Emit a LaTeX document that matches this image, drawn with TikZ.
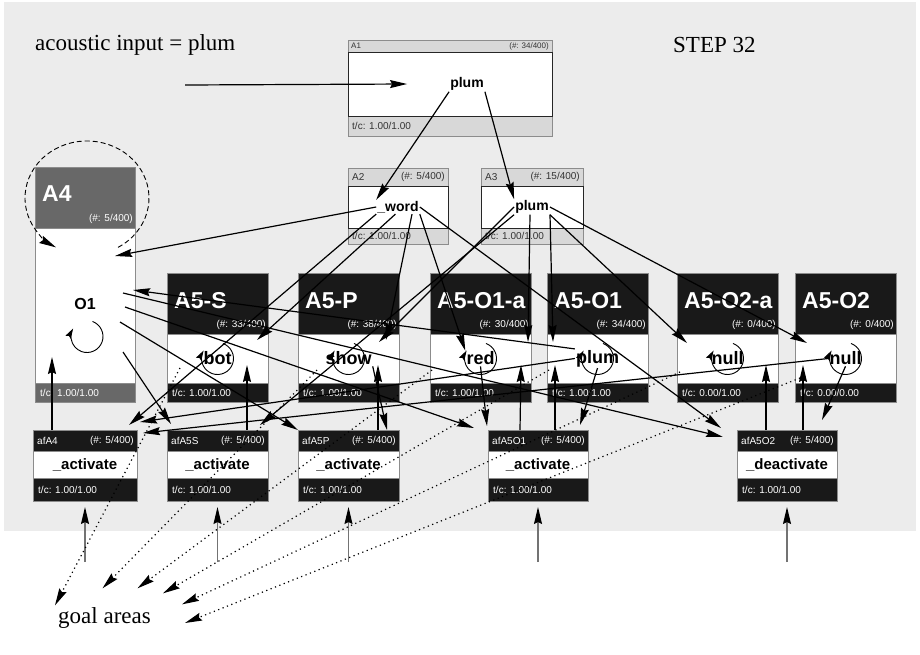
\documentclass[tikz,border=0pt]{standalone}
\usepackage{fontspec}
\setmainfont{Liberation Serif}
\setsansfont{Liberation Sans}
\usetikzlibrary{arrows.meta,positioning}

\definecolor{bggray}{RGB}{236,236,236}
\definecolor{ltgray}{RGB}{216,216,216}
\definecolor{dkgray}{RGB}{104,104,104}
\definecolor{rimgray}{RGB}{140,140,140}

% name, x, y, width, header h, body h, footer h, kind
\newcommand\areabox[8]{%
  \node[#8 hd,minimum width=#4pt,minimum height=#5pt,anchor=north west] (#1-h) at (#2,#3) {};
  \node[#8 hd,minimum width=#4pt,minimum height=#7pt,anchor=north] (#1-f) at ([yshift=-#6pt]#1-h.south) {};
  \node[#8 bd,minimum width=#4pt,minimum height=#6pt,anchor=north] (#1) at (#1-h.south) {};
}

\begin{document}
\begin{tikzpicture}[x=1pt,y=-1pt,>={Stealth[length=17pt,width=8pt,inset=2pt]},
    box/.style={draw=rimgray,line width=0.7pt,inner sep=0pt,outer sep=0pt},
    lt hd/.style={box,fill=ltgray},
    lt bd/.style={box,fill=white,draw=black!85},
    dk hd/.style={box,fill=dkgray},
    dk bd/.style={box,fill=white},
    bk hd/.style={box,fill=black!90},
    bk bd/.style={box,fill=white},
    lbl/.style={font=\sffamily\fontsize{10}{10}\selectfont,inner sep=0pt,text=black!80},
    wlbl/.style={lbl,text=white},
    title/.style={font=\sffamily\bfseries\fontsize{23}{23}\selectfont,inner sep=0pt,text=white},
    word/.style={font=\sffamily\bfseries\fontsize{14}{14}\selectfont,inner sep=1pt},
    bigword/.style={font=\sffamily\bfseries\fontsize{18}{18}\selectfont,inner sep=1pt},
    note/.style={font=\fontsize{23}{23}\selectfont,inner sep=0pt},
    conn/.style={->,line width=1.2pt},
    goal/.style={->,line width=1.2pt,dash pattern=on 1.2pt off 3.5pt},
    feed/.style={-{Stealth[length=17pt,width=8pt,inset=2pt,color=black]},draw=black!55,line width=1.2pt},
    spin/.style={-{Stealth[length=10pt,width=6pt,inset=1.5pt]},line width=0.9pt}]

\useasboundingbox (0,0) rectangle (920,654);
\fill[bggray] (4,2) rectangle (916,531);

\node[note,anchor=west] (inptxt) at (35,45) {acoustic input = plum};
\node[note,anchor=west] (step) at (673,45) {STEP 32};
\node[note,anchor=west] (gl) at (58,618) {goal areas};
\coordinate (inp) at (185,85);

% word areas
\areabox{aA1}{348}{40}{204}{12}{64}{20}{lt}
\node[lbl,font=\sffamily\fontsize{8}{8}\selectfont,anchor=west] (aA1-t) at ([xshift=3pt]aA1-h.west) {A1};
\node[lbl,font=\sffamily\fontsize{8}{8}\selectfont,anchor=east] (aA1-c) at ([xshift=-3pt]aA1-h.east) {(\#: 34/400)};
\node[word] (wA1) at ([xshift=17pt]aA1.center) {plum};
\node[lbl,anchor=west] (aA1-tc) at ([xshift=4pt]aA1-f.west) {t/c: 1.00/1.00};

\areabox{aA2}{348}{168}{100}{18}{42}{16}{lt}
\node[lbl,anchor=west] (aA2-t) at ([xshift=4pt]aA2-h.west) {A2};
\node[lbl,anchor=east] (aA2-c) at ([xshift=-3pt]aA2-h.east) {(\#: 5/400)};
\node[word] (wA2) at (aA2) {\_word};
\node[lbl,anchor=west] (aA2-tc) at ([xshift=4pt]aA2-f.west) {t/c: 1.00/1.00};

\areabox{aA3}{481}{168}{102}{18}{42}{16}{lt}
\node[lbl,anchor=west] (aA3-t) at ([xshift=4pt]aA3-h.west) {A3};
\node[lbl,anchor=east] (aA3-c) at ([xshift=-3pt]aA3-h.east) {(\#: 15/400)};
\node[word] (wA3) at (aA3) {plum};
\node[lbl,anchor=west] (aA3-tc) at ([xshift=4pt]aA3-f.west) {t/c: 1.00/1.00};

\areabox{aA4}{35}{167}{100}{61}{155}{19}{dk}
\node[title,anchor=west] (aA4-t) at ([xshift=7pt,yshift=4pt]aA4-h.west) {A4};
\node[wlbl,anchor=south east] (aA4-c) at ([xshift=-2pt,yshift=4pt]aA4-h.south east) {(\#: 5/400)};
\draw[spin] ([xshift=2pt,yshift=-31pt]aA4.center) ++(70:16pt) arc[start angle=70,end angle=-210,radius=16pt];
\node[bigword,font=\sffamily\bfseries\fontsize{16}{16}\selectfont] (wA4) at ([yshift=2pt]aA4.center) {O1};
\node[wlbl,anchor=west] (aA4-tc) at ([xshift=5pt]aA4-f.west) {t/c: 1.00/1.00};
\draw[->,line width=0.9pt,dash pattern=on 5pt off 3pt] ([xshift=2pt,yshift=-0.5pt]aA4-h.center) ++(-60:62pt and 57pt)
  arc[start angle=-60,end angle=240,x radius=62pt,y radius=57pt];

\foreach \nm/\x/\ttl/\cnt/\wrd/\tcv in {S/167/A5-S/33/bot/{1.00/1.00}, P/298/A5-P/38/show/{1.00/1.00},
    O1a/430/A5-O1-a/30/red/{1.00/1.00}, O1/547/A5-O1/34/plum/{1.00/1.00},
    O2a/677/A5-O2-a/0/null/{0.00/1.00}, O2/795/A5-O2/0/null/{0.00/0.00}}{
  \areabox{a\nm}{\x}{273}{101}{61}{49}{19}{bk}
  \node[title,anchor=west] (a\nm-t) at ([xshift=7pt,yshift=3pt]a\nm-h.west) {\ttl};
  \node[wlbl,anchor=south east] (a\nm-c) at ([xshift=-2pt,yshift=4pt]a\nm-h.south east) {(\#: \cnt/400)};
  \draw[spin] (a\nm.center) ++(70:16pt) arc[start angle=70,end angle=-210,radius=16pt];
  \node[bigword] (w\nm) at (a\nm) {\wrd};
  \node[wlbl,anchor=west] (a\nm-tc) at ([xshift=5pt]a\nm-f.west) {t/c: \tcv};
}

% goal areas
\foreach \nm/\x/\wid/\act in {A4/33/104/activate, A5S/167/101/activate, A5P/298/101/activate,
    A5O1/488/100/activate, A5O2/737/100/deactivate}{
  \areabox{g\nm}{\x}{430}{\wid}{21}{27}{23}{bk}
  \node[wlbl,anchor=west] (g\nm-t) at ([xshift=4pt]g\nm-h.west) {af\nm};
  \node[wlbl,anchor=east] (g\nm-c) at ([xshift=-3pt]g\nm-h.east) {(\#: 5/400)};
  \node[word,font=\sffamily\bfseries\fontsize{15}{15}\selectfont] (g\nm-w) at (g\nm) {\_\act};
  \node[wlbl,anchor=west] (g\nm-tc) at ([xshift=5pt]g\nm-f.west) {t/c: 1.00/1.00};
  \draw[feed] ([yshift=-61pt]g\nm-f.south) -- ([yshift=-6pt]g\nm-f.south);
}

% connections
\draw[conn] (inp) -- ([xshift=-42pt]wA1.west);
\draw[conn] (wA1.south west) -- (wA2.north west);
\draw[conn] (wA1.south east) -- (wA3.north west);

\draw[conn] (wA2.west) -- ([xshift=-20pt,yshift=-28pt]aA4.north east);
\draw[conn] (wA2.south west) -- ([xshift=-8pt,yshift=5pt]gA4-h.north east);
\draw[conn] (wA2.250) -- ([xshift=-11pt,yshift=-6pt]aS.north east);
\draw[conn] ([xshift=14pt]wA2.south) -- ([xshift=-13pt,yshift=-6pt]aP.north east);
\draw[conn] (wA2.south east) -- (wO1a.north west);
\draw[conn] (wA2.east) -- ([xshift=-16pt,yshift=2pt]gA5O2-h.north west);

\draw[conn] (wA3.south west) -- ([xshift=-8pt,yshift=5pt]gA5S-h.north east);
\draw[conn] (wA3.west) -- ([xshift=-20pt,yshift=-8pt]aP.north east);
\draw[conn] ([xshift=-2pt]wA3.south) -- ([xshift=-3pt,yshift=-8pt]aO1a.north east);
\draw[conn] ([xshift=18pt]wA3.south) -- ([xshift=6pt,yshift=-8pt]aO1.north west);
\draw[conn] (wA3.south east) -- ([xshift=10pt,yshift=-9pt]aO2a.north west);
\draw[conn] (wA3.east) -- ([xshift=12pt,yshift=-9pt]aO2.north west);

\draw[conn] ([xshift=-12pt,yshift=-65pt]aA4.north east) -- ([xshift=-14pt,yshift=-7pt]gA5O2-h.north west);
\draw[conn] ([xshift=-10pt,yshift=-79pt]aA4.north east) -- ([xshift=-14pt,yshift=2pt]gA5O1-h.north west);
\draw[conn] ([xshift=-15pt,yshift=-94pt]aA4.north east) -- (gA5P-h.north west);
\draw[conn] ([xshift=-12pt,yshift=-124pt]aA4.north east) -- ([xshift=4pt,yshift=6pt]gA5S-h.north west);

\draw[conn] (wO1.north west) -- ([xshift=-2pt,yshift=-62pt]aA4.north east);
\draw[conn] (wO1.west) -- ([xshift=3pt,yshift=8pt]gA4-h.north east);
\draw[conn] (wO1.south) -- ([xshift=-8pt,yshift=5pt]gA5O1-h.north east);
\draw[conn] (wO1a.south) -- ([xshift=-1pt,yshift=4pt]gA5O1-h.north west);
\draw[conn] (wP.south east) -- ([xshift=-12pt]gA5P-h.north east);
\draw[conn] (wO2.west) -- ([xshift=6pt,yshift=-3pt]gA4-h.north east);
\draw[conn] (wO2.south) -- ([xshift=-15pt,yshift=10pt]gA5O2-h.north east);

\draw[conn] ([xshift=19pt]gA4-h.north west) -- ([xshift=17pt,yshift=26pt]aA4.south west);
\draw[conn] ([xshift=80pt]gA5S-h.north west) -- ([xshift=80pt,yshift=18pt]aS.south west);
\draw[conn] ([xshift=80pt]gA5P-h.north west) -- ([xshift=80pt,yshift=18pt]aP.south west);
\draw[conn] ([xshift=32pt]gA5O1-h.north west) -- ([xshift=-10pt,yshift=18pt]aO1a.south east);
\draw[conn] ([xshift=67pt]gA5O1-h.north west) -- ([xshift=8pt,yshift=18pt]aO1.south west);
\draw[conn] ([xshift=29pt]gA5O2-h.north west) -- ([xshift=-12pt,yshift=18pt]aO2a.south east);
\draw[conn] ([xshift=66pt]gA5O2-h.north west) -- ([xshift=8pt,yshift=18pt]aO2.south west);

\draw[goal] ([xshift=13pt,yshift=-34pt]aS.north west) -- ([xshift=-3pt,yshift=2pt]gl.north west);
\draw[goal] ([xshift=19pt,yshift=-36pt]aP.north west) -- ([xshift=-2pt,yshift=19pt]gl.north);
\draw[goal] ([xshift=2pt,yshift=-36pt]aO1a.north west) -- ([xshift=33pt,yshift=19pt]gl.north);
\draw[goal] ([xshift=2pt,yshift=-36pt]aO1.north west) -- ([xshift=12pt,yshift=14pt]gl.north east);
\draw[goal] ([xshift=3pt,yshift=-38pt]aO2a.north west) -- ([xshift=31pt,yshift=3pt]gl.north east);
\draw[goal] ([xshift=5pt,yshift=-44pt]aO2.north west) -- ([xshift=34pt,yshift=-5pt]gl.east);

\end{tikzpicture}
\end{document}
